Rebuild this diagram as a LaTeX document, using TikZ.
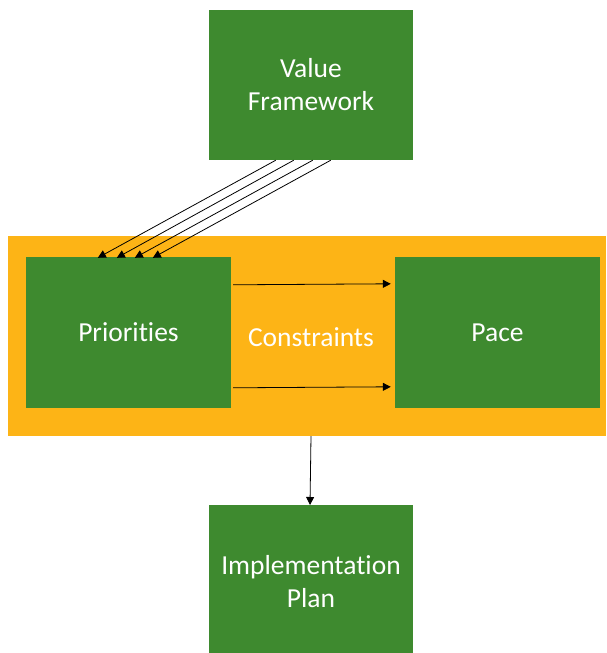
\documentclass[tikz,border=0pt]{standalone}
\usepackage{fontspec}
\setmainfont{Carlito}[Ligatures={NoCommon}]
\usetikzlibrary{calc,arrows.meta}
\definecolor{boxgreen}{RGB}{62,138,47}
\definecolor{bandorange}{RGB}{253,180,22}
\begin{document}
\begin{tikzpicture}[x=1pt,y=-1pt,
  greenbox/.style={fill=boxgreen, draw=none, inner sep=0pt, align=center,
    text=white, font=\fontsize{27.5}{33}\selectfont, minimum width=204pt, minimum height=151pt},
  band/.style={fill=bandorange, draw=none, inner sep=0pt, minimum width=598pt, minimum height=200pt},
  label/.style={text=white, align=center, font=\fontsize{27.5}{33}\selectfont},
  link/.style={draw=black, line width=0.8pt, -{Triangle[length=8pt,width=8pt]}}]
  \useasboundingbox (0,0) rectangle (606,653);
  % orange constraints band
  \node[band] (cons) at (307,335.5) {};
  \node[label] (constxt) at (311,337) {Constraints};
  % green boxes
  \node[greenbox, minimum height=150pt] (vf) at (311,85) {Value\\Framework};
  \node[greenbox, minimum width=205pt] (pri) at (128.5,332.5) {Priorities};
  \node[greenbox, minimum width=205pt] (pace) at (497.5,332.5) {Pace};
  \node[greenbox, minimum height=150pt, anchor=north] (impl) at (311,505) {};
  \node[label] (impltxt) at (311,582) {Implementation\\Plan};
  % value framework feeds priorities
  \draw[link] ($(vf.south west)+(67,0)$) -- ($(pri.north west)+(72,1)$);
  \draw[link] ($(vf.south west)+(85,0)$) -- ($(pri.north west)+(91,1)$);
  \draw[link] ($(vf.south west)+(104,0)$) -- ($(pri.north west)+(109,1)$);
  \draw[link] ($(vf.south west)+(122,0)$) -- ($(pri.north west)+(127,1)$);
  % priorities to pace
  \draw[link] ($(pri.north east)+(2,28)$) -- ($(pace.north west)+(-4,27)$);
  \draw[link] ($(pri.north east)+(2,131)$) -- ($(pace.north west)+(-4,130)$);
  % band to implementation plan
  \draw[link] ($(cons.south)+(4,0.5)$) -- ($(impl.north)+(-1,0)$);
\end{tikzpicture}
\end{document}
